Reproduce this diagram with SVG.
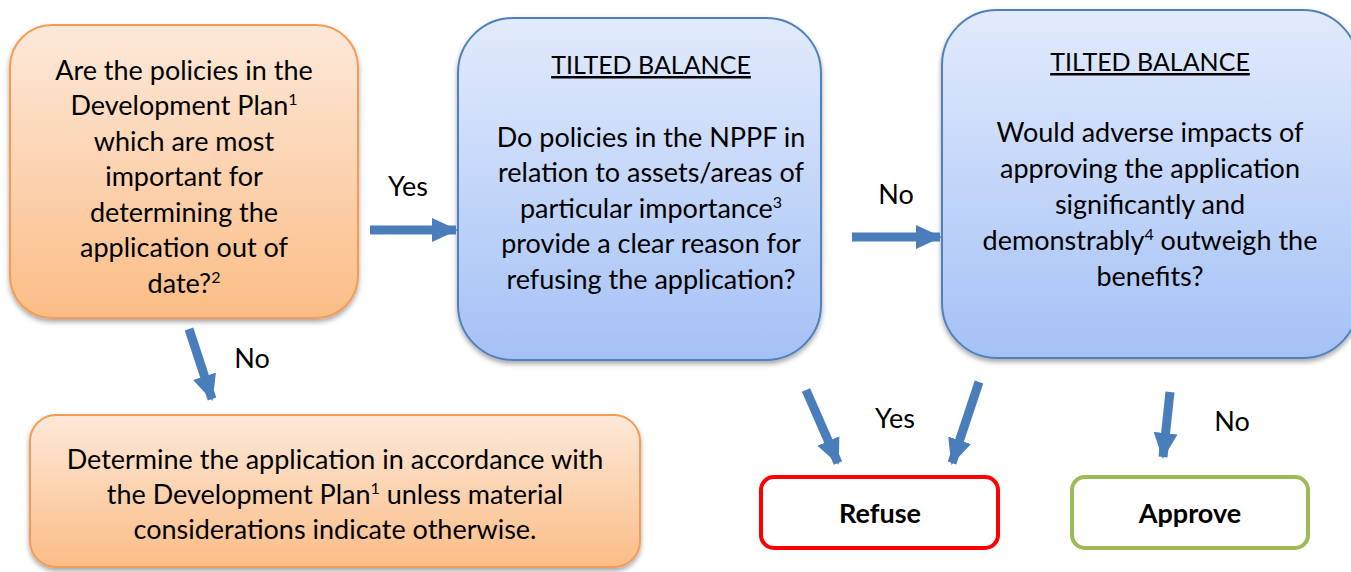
<svg xmlns="http://www.w3.org/2000/svg" width="1351" height="572" viewBox="0 0 1351 572">
<defs>
<linearGradient id="gOrange" x1="0" y1="0" x2="0" y2="1">
<stop offset="0" stop-color="#fde9da"/>
<stop offset="1" stop-color="#fbbd86"/>
</linearGradient>
<linearGradient id="gBlue" x1="0" y1="0" x2="0" y2="1">
<stop offset="0" stop-color="#e2ebfc"/>
<stop offset="1" stop-color="#a4c1f6"/>
</linearGradient>
<filter id="shadow" x="-10%" y="-10%" width="130%" height="130%">
<feDropShadow dx="0" dy="3" stdDeviation="2.5" flood-color="#000" flood-opacity="0.35"/>
</filter>
<marker id="ah" markerUnits="userSpaceOnUse" markerWidth="26" markerHeight="26" viewBox="0 0 26 26" refX="24" refY="13" orient="auto">
<path d="M0,1 L26,13 L0,25 Z" fill="#4a7ebb"/>
</marker>
</defs>
<style>
text{font-family:Lato,"Liberation Sans",sans-serif;font-size:27px;fill:#000;text-anchor:middle}
.sup{font-size:16px}
.b{font-weight:bold}
.u{text-decoration:underline;font-size:25px}
.orange{fill:url(#gOrange);stroke:#f59b52;stroke-width:2;filter:url(#shadow)}
.blue{fill:url(#gBlue);stroke:#4f81bd;stroke-width:2;filter:url(#shadow)}
.conn line{stroke:#4a7ebb;stroke-width:9;marker-end:url(#ah)}
</style>
<rect width="1351" height="572" fill="#fff"/>

<g id="node-outofdate">
<rect class="orange" x="10" y="25" width="348" height="293" rx="42"/>
<text x="184" y="80">Are the policies in the</text>
<text x="184" y="115">Development Plan<tspan class="sup" dy="-10">1</tspan></text>
<text x="184" y="151">which are most</text>
<text x="184" y="186">important for</text>
<text x="184" y="222">determining the</text>
<text x="184" y="257">application out of</text>
<text x="184" y="293">date?<tspan class="sup" dy="-10">2</tspan></text>
</g>

<g id="node-tilted1">
<rect class="blue" x="458" y="18" width="363" height="342" rx="55"/>
<text x="651" y="74" class="u">TILTED BALANCE</text>
<text x="651" y="147">Do policies in the NPPF in</text>
<text x="651" y="182">relation to assets/areas of</text>
<text x="651" y="218">particular importance<tspan class="sup" dy="-10">3</tspan></text>
<text x="651" y="253">provide a clear reason for</text>
<text x="651" y="289">refusing the application?</text>
</g>

<g id="node-tilted2">
<rect class="blue" x="942" y="10" width="416" height="348" rx="55"/>
<text x="1150" y="71" class="u">TILTED BALANCE</text>
<text x="1150" y="142">Would adverse impacts of</text>
<text x="1150" y="178">approving the application</text>
<text x="1150" y="214">significantly and</text>
<text x="1150" y="250">demonstrably<tspan class="sup" dy="-10">4</tspan><tspan dy="10"> outweigh the</tspan></text>
<text x="1150" y="286">benefits?</text>
</g>

<g id="node-devplan">
<rect class="orange" x="30" y="415" width="610" height="152" rx="26"/>
<text x="335" y="469">Determine the application in accordance with</text>
<text x="335" y="504">the Development Plan<tspan class="sup" dy="-10">1</tspan><tspan dy="10"> unless material</tspan></text>
<text x="335" y="539">considerations indicate otherwise.</text>
</g>

<g id="node-refuse">
<rect x="761" y="477" width="237" height="71" rx="13" fill="#fff" stroke="#ff0000" stroke-width="4"/>
<text x="880" y="523" class="b">Refuse</text>
</g>

<g id="node-approve">
<rect x="1072" y="477" width="236" height="71" rx="13" fill="#fff" stroke="#9bbb59" stroke-width="4"/>
<text x="1190" y="523" class="b">Approve</text>
</g>

<g id="connectors" class="conn">
<line x1="370" y1="230" x2="456" y2="230"/>
<line x1="852" y1="237" x2="940" y2="237"/>
<line x1="189" y1="329" x2="212" y2="399"/>
<line x1="806" y1="390" x2="838" y2="463"/>
<line x1="979" y1="382" x2="952" y2="463"/>
<line x1="1170" y1="392" x2="1163" y2="457"/>
</g>
<g id="labels">
<text x="408" y="196">Yes</text>
<text x="896" y="204">No</text>
<text x="252" y="368">No</text>
<text x="895" y="428">Yes</text>
<text x="1232" y="431">No</text>
</g>
</svg>
